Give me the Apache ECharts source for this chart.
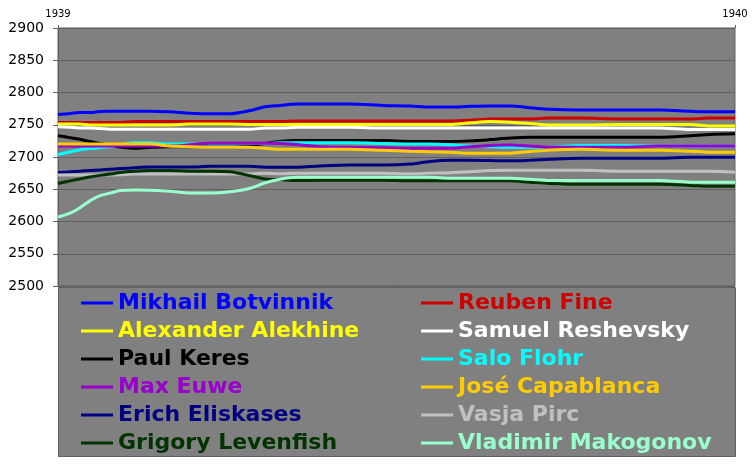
<!DOCTYPE html>
<html>
<head>
<meta charset="utf-8">
<script src="https://cdn.jsdelivr.net/npm/echarts@6/dist/echarts.min.js"></script>
<style>
  html, body { margin: 0; padding: 0; background: #fff; }
  #chart { width: 756px; height: 464px; }
</style>
</head>
<body>
<div id="chart"></div>
<script>
// position inside the year 1939 (0 = start, 1 = 1940)
const xPos = [0, 0.018, 0.032, 0.047, 0.062, 0.077, 0.092, 0.114, 0.136, 0.165,
  0.195, 0.225, 0.254, 0.284, 0.306, 0.328, 0.353, 0.387, 0.431, 0.480,
  0.520, 0.549, 0.579, 0.609, 0.638, 0.668, 0.697, 0.727, 0.771, 0.830,
  0.889, 0.934, 0.963, 1.000];

const botvinnik = [2766, 2767.5, 2769, 2769, 2770.5, 2771, 2771, 2771, 2771, 2770,
  2768, 2767, 2767, 2772, 2778, 2780, 2782, 2782, 2782, 2780,
  2779, 2777.5, 2777.5, 2778.5, 2779, 2779, 2776.5, 2774, 2773, 2773,
  2773, 2771, 2770, 2770];
const fine = [2753.5, 2753.5, 2753.5, 2753.5, 2753.5, 2753.5, 2753.5, 2755, 2755, 2755,
  2755, 2755, 2755, 2755, 2755, 2755, 2756, 2756, 2756, 2756,
  2756, 2756, 2756, 2757, 2759, 2759, 2759, 2760.5, 2760.5, 2759,
  2759, 2759, 2760.5, 2760.5];
const alekhine = [2751, 2751, 2751, 2749.5, 2749.5, 2749.5, 2749.5, 2749.5, 2749.5, 2749.5,
  2751, 2751, 2751, 2750.5, 2750.5, 2750.5, 2750.5, 2750.5, 2750.5, 2750.5,
  2750.5, 2750.5, 2750.5, 2753, 2755, 2754, 2752, 2749.6, 2749.6, 2750.5,
  2750.5, 2750.5, 2748, 2748];
const reshevsky = [2747, 2746, 2745, 2745, 2744, 2743, 2743, 2743, 2743, 2743,
  2743, 2743, 2743, 2743, 2745, 2745, 2746, 2746, 2746, 2745,
  2745, 2745, 2745, 2745, 2745, 2745, 2745, 2745, 2745, 2745,
  2745, 2742.5, 2742.5, 2742.5];
const keres = [2733, 2730, 2727.5, 2724, 2721, 2718, 2715.5, 2713.5, 2715, 2716,
  2716, 2716, 2716, 2718, 2721, 2724, 2725.5, 2725.5, 2725.5, 2725.5,
  2724, 2724, 2724, 2725, 2727, 2729.5, 2730.5, 2730.5, 2730.5, 2730.5,
  2730.5, 2733, 2735, 2736];
const flohr = [2704, 2708, 2711, 2713, 2714.5, 2716, 2719, 2722, 2722, 2720,
  2720, 2720, 2720, 2721, 2721, 2722, 2722, 2722, 2722, 2721,
  2720, 2720, 2719, 2717, 2716, 2715, 2715, 2715, 2718, 2718,
  2717, 2717, 2717, 2717];
const euwe = [2717, 2717, 2717, 2717, 2717, 2717, 2717, 2717, 2717, 2717,
  2719, 2721.5, 2721.5, 2721.5, 2721.5, 2721, 2719.5, 2716, 2715, 2714.5,
  2713.5, 2713.5, 2713.5, 2716, 2718, 2718.5, 2717, 2715, 2715, 2715,
  2717, 2717, 2717, 2717];
const capablanca = [2720, 2720, 2720, 2720, 2720, 2720, 2720, 2720, 2720, 2717,
  2716, 2715, 2715, 2715, 2713.5, 2712, 2712, 2712, 2712, 2710.5,
  2709, 2708, 2707.5, 2705.7, 2705.7, 2706, 2708.5, 2711, 2712, 2710.5,
  2710.5, 2709, 2707.5, 2707.5];
const eliskases = [2676, 2677, 2678, 2679, 2680, 2681, 2682, 2683.5, 2684.5, 2684.5,
  2684.5, 2685.5, 2685.5, 2685.5, 2684, 2684, 2684, 2686, 2687.5, 2687.5,
  2689, 2693, 2695, 2695, 2694.5, 2694, 2695, 2696.5, 2698, 2698,
  2698, 2699.5, 2699.5, 2699.5];
const pirc = [2672, 2672, 2672, 2672, 2672, 2672, 2672.5, 2673.5, 2673.5, 2673.5,
  2673.5, 2673.5, 2673.5, 2673.5, 2675, 2674, 2675, 2675, 2675, 2675,
  2674, 2675, 2675.5, 2677, 2679, 2679.5, 2679.5, 2679.5, 2679.5, 2678,
  2678, 2678, 2678, 2676.5];
const levenfish = [2659, 2663, 2666, 2669, 2671.5, 2673.5, 2676, 2678, 2679, 2679,
  2678, 2678, 2677, 2671, 2666, 2665, 2663.5, 2664, 2664, 2664,
  2663, 2663, 2663, 2663, 2663, 2663, 2661, 2659, 2657.7, 2657.7,
  2657.7, 2656, 2654.5, 2654.5];
const makogonov = [2607, 2613, 2621, 2632, 2640, 2644, 2648, 2649, 2648.5, 2647,
  2644, 2644, 2646, 2651.5, 2660, 2665.5, 2668.5, 2668.5, 2668.5, 2668.5,
  2668.5, 2668.5, 2667, 2667, 2667, 2667, 2665.5, 2663.5, 2663.5, 2663.5,
  2663.5, 2661, 2661, 2661];

const players = [
  "Mikhail Botvinnik", "Reuben Fine", "Alexander Alekhine", "Samuel Reshevsky",
  "Paul Keres", "Salo Flohr", "Max Euwe", "José Capablanca",
  "Erich Eliskases", "Vasja Pirc", "Grigory Levenfish", "Vladimir Makogonov"
];
const ratings = [botvinnik, fine, alekhine, reshevsky, keres, flohr,
  euwe, capablanca, eliskases, pirc, levenfish, makogonov];
const colors = ["#0000ff", "#cc0000", "#ffff00", "#ffffff", "#000000", "#00ffff",
  "#9900cc", "#ffcc00", "#000080", "#c0c0c0", "#003300", "#99ffcc"];
const yearLabels = ["1939", "1940"];
const startYear = 1939;

const chart = echarts.init(document.getElementById("chart"));

const legendItem = (i) => ({
  name: players[i],
  textStyle: { color: colors[i] },
});
const legendBase = {
  orient: "vertical",
  top: 292,
  padding: 0,
  itemWidth: 32,
  itemHeight: 3,
  itemGap: 6,
  icon: "rect",
  selectedMode: false,
  textStyle: {
    fontFamily: "DejaVu Sans",
    fontWeight: "bold",
    fontSize: 22,
    lineHeight: 22,
  },
};

chart.setOption({
  animation: false,
  grid: {
    left: 58,
    right: 21,
    top: 28,
    bottom: 178,
    show: true,
    backgroundColor: "#808080",
    borderColor: "#606060",
    borderWidth: 1,
  },
  xAxis: {
    type: "value",
    position: "top",
    min: startYear,
    max: startYear + 1,
    interval: 1,
    axisLine: { show: false },
    axisTick: { show: true, length: 3, lineStyle: { color: "#606060" } },
    splitLine: { show: false },
    axisLabel: {
      margin: 9,
      fontFamily: "DejaVu Sans",
      fontSize: 10,
      color: "#000",
      formatter: (v) => yearLabels[Math.round(v - startYear)],
    },
  },
  yAxis: {
    type: "value",
    min: 2500,
    max: 2900,
    interval: 50,
    axisLine: { show: true, lineStyle: { color: "#606060" } },
    axisTick: { show: true, length: 5, lineStyle: { color: "#606060" } },
    splitLine: { show: true, lineStyle: { color: "#606060", width: 1 } },
    axisLabel: {
      margin: 14,
      fontFamily: "DejaVu Sans",
      fontSize: 14,
      color: "#000",
      formatter: (v) => String(v),
    },
  },
  graphic: [
    {
      type: "rect",
      z: 0,
      shape: { x: 58.5, y: 287.5, width: 677, height: 169 },
      style: { fill: "#808080", stroke: "#606060", lineWidth: 1 },
    },
  ],
  legend: [
    Object.assign({}, legendBase, {
      left: 81,
      data: [0, 2, 4, 6, 8, 10].map(legendItem),
    }),
    Object.assign({}, legendBase, {
      left: 421,
      data: [1, 3, 5, 7, 9, 11].map(legendItem),
    }),
  ],
  series: players.map((name, i) => ({
    name: name,
    type: "line",
    symbol: "none",
    smooth: 0.3,
    color: colors[i],
    lineStyle: { width: 3, color: colors[i] },
    data: ratings[i].map((v, j) => [startYear + xPos[j], v]),
  })),
});
</script>
</body>
</html>
